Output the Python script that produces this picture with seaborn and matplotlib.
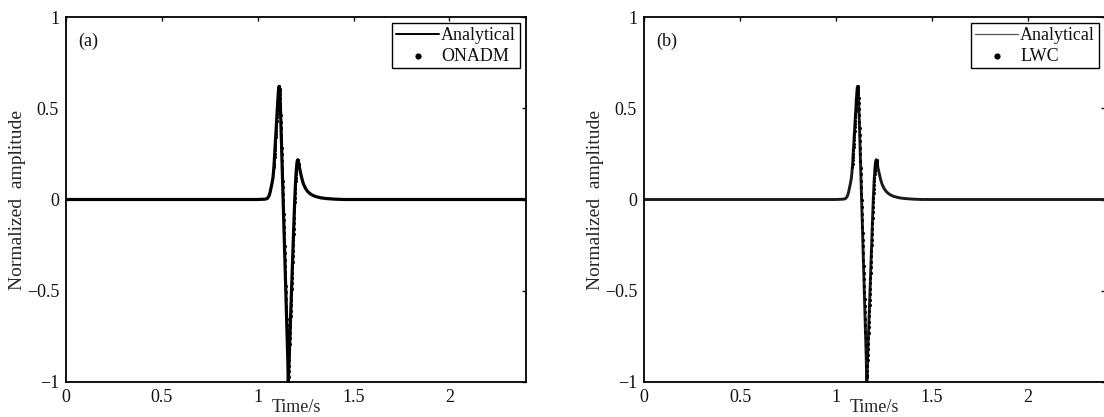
import numpy as np
import matplotlib
matplotlib.use("Agg")
import matplotlib.pyplot as plt
import seaborn as sns

# ---------------- data ----------------
# Analytical trace: time (s) and normalized amplitude
analytic_time = [0.000, 1.000, 1.040, 1.050, 1.055, 1.060, 1.065, 1.070, 1.075, 1.080,
                 1.085, 1.090, 1.095, 1.100, 1.105, 1.108, 1.110, 1.112, 1.114, 1.116,
                 1.118, 1.124, 1.130, 1.136, 1.142, 1.148, 1.154, 1.157, 1.159, 1.160,
                 1.161, 1.163, 1.170, 1.177, 1.184, 1.190, 1.194, 1.198, 1.202, 1.205,
                 1.207, 1.209, 1.211, 1.213, 1.216, 1.220, 1.225, 1.230, 1.235, 1.240,
                 1.250, 1.260, 1.270, 1.280, 1.300, 1.330, 1.360, 1.400, 1.450, 2.400]
analytic_amp = [0.000, 0.000, 0.002, 0.006, 0.012, 0.022, 0.040, 0.065, 0.090, 0.120,
                0.180, 0.270, 0.360, 0.450, 0.540, 0.590, 0.612, 0.620, 0.608, 0.580,
                0.530, 0.319, 0.103, -0.113, -0.329, -0.545, -0.761, -0.869, -0.962, -1.000,
                -0.972, -0.910, -0.700, -0.490, -0.280, -0.100, 0.010, 0.101, 0.168, 0.201,
                0.213, 0.218, 0.214, 0.203, 0.184, 0.165, 0.140, 0.118, 0.098, 0.082,
                0.060, 0.045, 0.035, 0.027, 0.017, 0.009, 0.005, 0.002, 0.000, 0.000]

# Numerical solution samples (1 ms sampling) over the pulse window
numeric_start = 1.085
numeric_step = 0.001
numeric_amp = [0.180, 0.196, 0.214, 0.232, 0.251, 0.270, 0.288, 0.306, 0.324, 0.342,
               0.360, 0.378, 0.396, 0.414, 0.432, 0.450, 0.468, 0.486, 0.504, 0.522,
               0.540, 0.558, 0.575, 0.590, 0.602, 0.612, 0.618, 0.620, 0.617, 0.608,
               0.596, 0.580, 0.558, 0.530,
               0.496, 0.462, 0.427, 0.391, 0.355, 0.319, 0.283, 0.247, 0.211, 0.175,
               0.139, 0.103, 0.067, 0.031, -0.005, -0.041, -0.077, -0.113, -0.149, -0.185,
               -0.221, -0.257, -0.293, -0.329, -0.365, -0.401, -0.437, -0.473, -0.509, -0.545,
               -0.581, -0.617, -0.653, -0.689, -0.725, -0.761, -0.797, -0.833, -0.869,
               -0.915, -0.962, -1.000, -0.972, -0.940, -0.910,
               -0.880, -0.850, -0.820, -0.790, -0.760, -0.730, -0.700, -0.670, -0.640, -0.610,
               -0.580, -0.550, -0.520, -0.490, -0.460, -0.430, -0.400, -0.370, -0.340, -0.310,
               -0.280, -0.250, -0.220, -0.190, -0.160, -0.130, -0.100, -0.071, -0.043, -0.016,
               0.010, 0.035, 0.058, 0.080, 0.101, 0.120, 0.138, 0.154, 0.168, 0.181,
               0.192, 0.201, 0.208, 0.213, 0.216, 0.218, 0.217, 0.214, 0.209, 0.203,
               0.196, 0.188]

panel_tags = ["(a)", "(b)"]
method_names = ["ONADM", "LWC"]
x_ticks = [0, 0.5, 1, 1.5, 2]
x_tick_labels = ["0", "0.5", "1", "1.5", "2"]
y_ticks = [-1, -0.5, 0, 0.5, 1]
y_tick_labels = ["\u22121", "\u22120.5", "0", "0.5", "1"]

numeric_time = numeric_start + numeric_step * np.arange(len(numeric_amp))

# ---------------- style ----------------
sns.set_style("white")
plt.rcParams["font.family"] = ["Liberation Serif", "DejaVu Serif"]
plt.rcParams["text.color"] = "#111111"

W, H = 1104, 417
fig = plt.figure(figsize=(W / 100, H / 100), dpi=100)
positions = [[66 / W, 35 / H, 460 / W, 365 / H],
             [644 / W, 35 / H, 461 / W, 365 / H]]
line_colors = ["black", "#1a1a1a"]
line_widths = [2.3, 2.1]
legend_line = [(1.4, "black"), (0.9, "#555555")]

for i in range(2):
    ax = fig.add_axes(positions[i])
    sns.lineplot(x=analytic_time, y=analytic_amp, ax=ax, color=line_colors[i],
                 linewidth=line_widths[i], label="Analytical", sort=False,
                 estimator=None, zorder=2)
    sns.scatterplot(x=numeric_time, y=numeric_amp, ax=ax, color="black", s=5,
                    linewidth=0, label=method_names[i], zorder=3)
    ax.set_xlim(0, 2.4)
    ax.set_ylim(-1, 1)
    ax.set_xticks(x_ticks)
    ax.set_xticklabels(x_tick_labels)
    ax.set_yticks(y_ticks)
    ax.set_yticklabels(y_tick_labels)
    ax.tick_params(direction="in", length=3, width=1, top=True, right=True,
                   labelsize=13, pad=5, colors="#111111")
    for s in ax.spines.values():
        s.set_color("black")
        s.set_linewidth(1.3)
    ax.set_xlabel("Time/s", fontsize=13)
    ax.xaxis.set_label_coords(0.5, -0.046)
    ax.set_ylabel("Normalized  amplitude", fontsize=14)
    ax.yaxis.set_label_coords(-0.086, 0.5)
    ax.text(0.026, 0.958, panel_tags[i], transform=ax.transAxes, ha="left",
            va="top", fontsize=13)
    leg = ax.legend(loc="upper right", fontsize=13, frameon=True, fancybox=False,
                    edgecolor="black", framealpha=1, borderaxespad=0.35,
                    borderpad=0.2, labelspacing=0.2, handlelength=2.4,
                    handletextpad=0.1, markerscale=2.0)
    leg.get_frame().set_linewidth(1.0)
    lw, lc = legend_line[i]
    leg.get_lines()[0].set_linewidth(lw)
    leg.get_lines()[0].set_color(lc)

fig.savefig("out.png", dpi=100)
